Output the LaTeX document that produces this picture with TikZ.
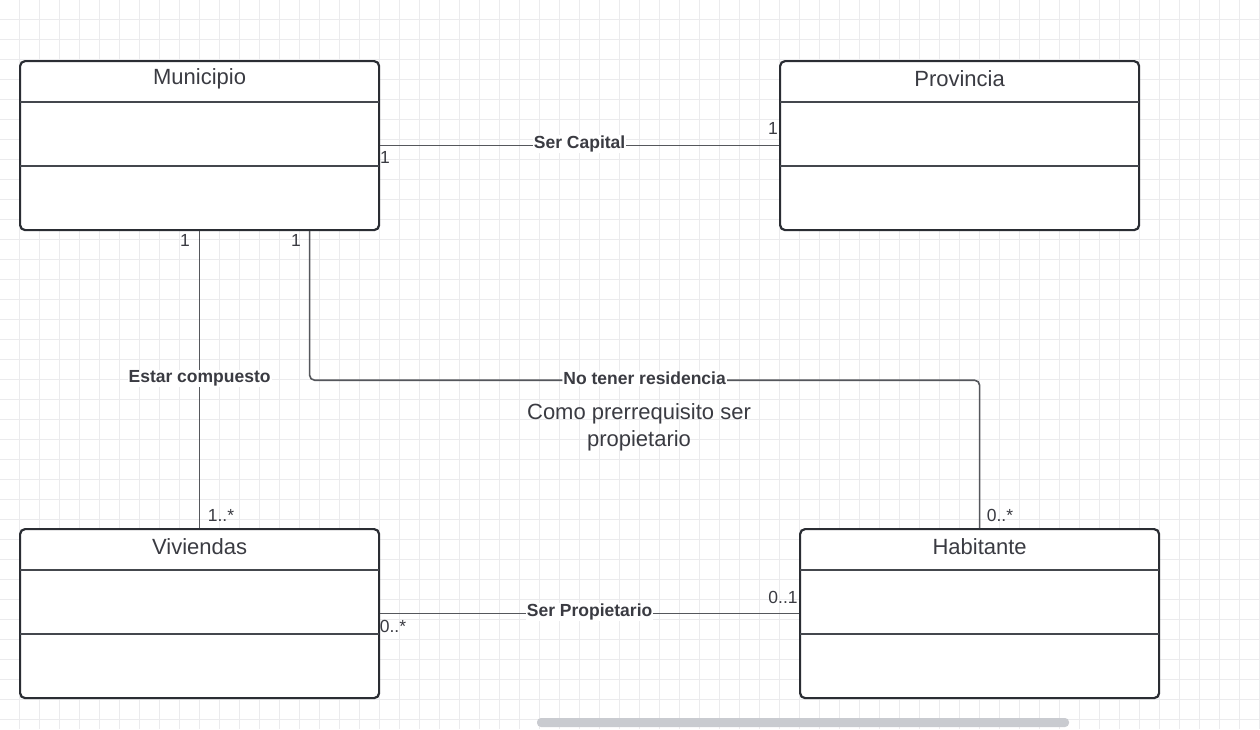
\documentclass[tikz,border=0pt]{standalone}
\usepackage{fontspec}
\setmainfont{Liberation Sans}
\usetikzlibrary{calc}
\definecolor{gridc}{HTML}{EBEBED}
\definecolor{boxc}{HTML}{2A2D33}
\definecolor{sepc}{HTML}{44474D}
\definecolor{connc}{HTML}{55575C}
\definecolor{txtc}{HTML}{3A3B42}
\definecolor{scrollc}{HTML}{C9CBD0}
\tikzset{
  classbox/.style={draw=boxc, line width=2.2pt, rounded corners=5pt, fill=white,
    minimum width=359pt, minimum height=169pt, anchor=north west, inner sep=0pt},
  ctitle/.style={text=txtc, font=\fontsize{22}{26}\selectfont, inner sep=0pt},
  sepline/.style={draw=sepc, line width=2pt},
  conn/.style={draw=connc, line width=1.6pt},
  lab/.style={fill=white, text=txtc, font=\bfseries\fontsize{17.5}{20}\selectfont, inner sep=1pt},
  mult/.style={text=txtc, font=\fontsize{17.5}{20}\selectfont, inner sep=0pt},
  freetext/.style={text=txtc, font=\fontsize{22}{27}\selectfont, align=center, inner sep=0pt}
}
\begin{document}
\begin{tikzpicture}[x=1pt,y=-1pt]
\useasboundingbox (0,0) rectangle (1260,729);
\fill[white] (0,0) rectangle (1260,729);
\foreach \x in {-1,19,...,1259} \draw[gridc, line width=0.8pt] (\x,0) -- (\x,729);
\foreach \y in {-1,19,...,719} \draw[gridc, line width=0.8pt] (0,\y) -- (1260,\y);

% class boxes
\node[classbox] (mun) at (19,60) {};
\node[classbox] (prov) at (779,60) {};
\node[classbox] (viv) at (19,528) {};
\node[classbox] (hab) at (799,528) {};

\foreach \b in {mun,prov,viv,hab}{
  \draw[sepline] ($(\b.north west)+(1,42)$) -- ($(\b.north east)+(-1,42)$);
  \draw[sepline] ($(\b.north west)+(1,106)$) -- ($(\b.north east)+(-1,106)$);
}

\node[ctitle] (tmun) at ($(mun.north)+(0,19)$) {Municipio};
\node[ctitle] (tprov) at ($(prov.north)+(0,19)$) {Provincia};
\node[ctitle] (tviv) at ($(viv.north)+(0,19)$) {Viviendas};
\node[ctitle] (thab) at ($(hab.north)+(0,19)$) {Habitante};

% connectors
\draw[conn] (mun.east) -- (prov.west) node[lab, midway, yshift=1.5pt] (l1) {Ser Capital};
\draw[conn] (mun.south) -- (viv.north) node[lab, midway, yshift=1pt] (l2) {Estar compuesto};
\draw[conn, rounded corners=5pt] ($(mun.south)+(110,0)$) -- ++(0,149) -| (hab.north)
   node[lab, pos=0.25, yshift=1.5pt] (l3) {No tener residencia};
\draw[conn] (viv.east) -- (hab.west) node[lab, midway, yshift=1.5pt] (l4) {Ser Propietario};

% multiplicities
\node[mult] (m1) at (385,157) {1};
\node[mult] (m2) at (773,128) {1};
\node[mult] (m3) at (185,240) {1};
\node[mult] (m4) at (296,240) {1};
\node[mult] (m5) at (221,515) {1..*};
\node[mult] (m6) at (1000,515) {0..*};
\node[mult] (m7) at (393,626) {0..*};
\node[mult] (m8) at (783,597) {0..1};

% free text
\node[freetext] (note) at (639,427) {Como prerrequisito ser\\propietario};

% scrollbar
\fill[scrollc, rounded corners=4pt] (537,718) rectangle (1069,727);
\end{tikzpicture}
\end{document}
